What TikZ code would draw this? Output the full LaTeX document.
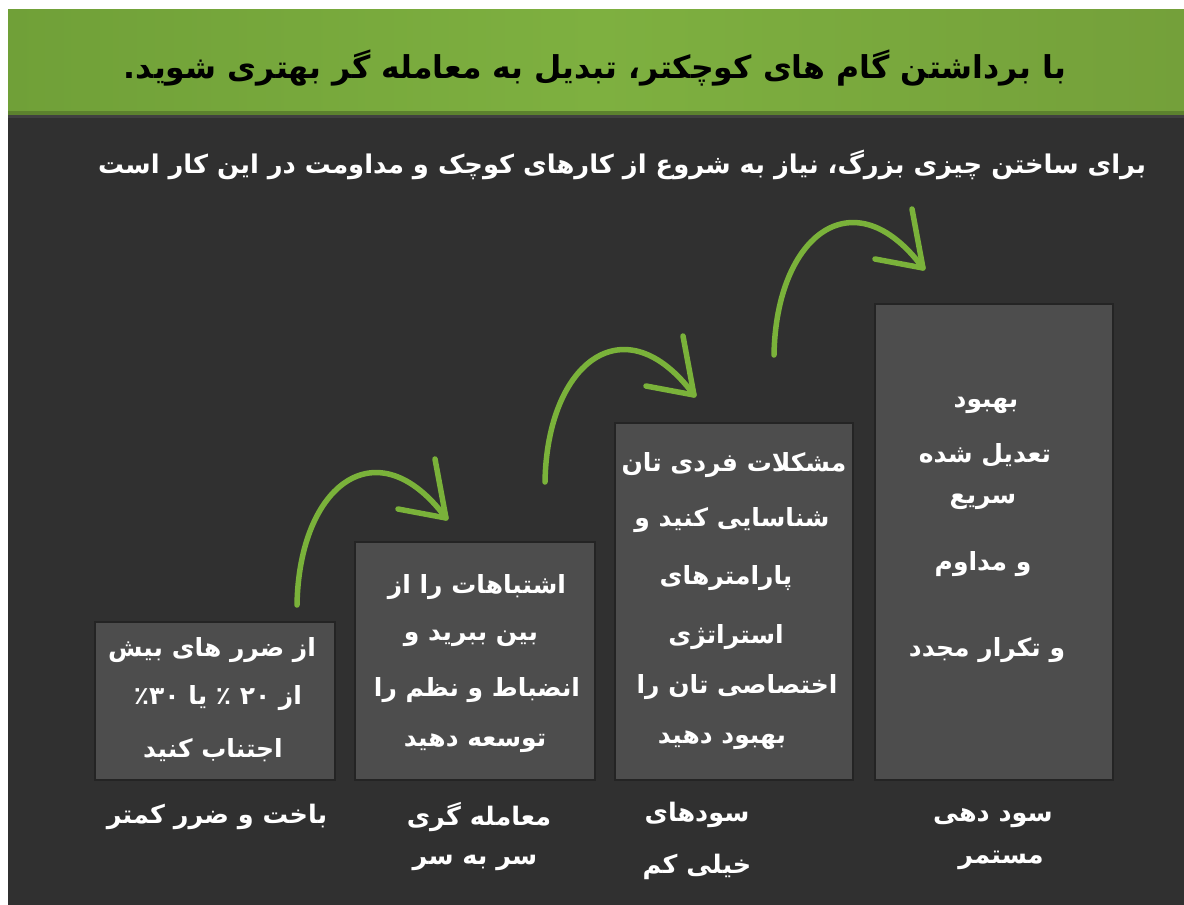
\documentclass[tikz,border=0pt]{standalone}
\usepackage{fontspec}
\TeXXeTstate=1
\newfontfamily\fa[Script=Arabic]{DejaVu Sans}
\definecolor{bgdark}{RGB}{48,48,48}
\definecolor{boxfill}{RGB}{77,77,77}
\definecolor{boxline}{RGB}{36,36,36}
\definecolor{gL}{RGB}{112,160,56}
\definecolor{gM}{RGB}{126,176,64}
\definecolor{gR}{RGB}{116,160,58}
\definecolor{gDark}{RGB}{92,130,46}
\definecolor{arrowgreen}{RGB}{122,178,58}
\tikzset{
  stepbox/.style={draw=boxline, line width=2pt, fill=boxfill, inner sep=0pt},
  boxtxt/.style={text=white, font=\fa\bfseries\fontsize{25}{30}\selectfont, inner sep=0pt, anchor=center},
  labtxt/.style={text=white, font=\fa\bfseries\fontsize{25.5}{30}\selectfont, inner sep=0pt, anchor=center},
  curvy/.style={draw=arrowgreen, line width=5.5pt, line cap=round, line join=round},
}
\newcommand{\rtl}[1]{\beginR #1\endR}
\begin{document}
\begin{tikzpicture}[x=1pt,y=-1pt]
\useasboundingbox (0,0) rectangle (1184,905);
\fill[white] (0,0) rectangle (1184,905);
\fill[bgdark] (8,117) rectangle (1184,905);
\shade[left color=gL, right color=gR, middle color=gM] (8,9) rectangle (1184,112);
\fill[gDark] (8,111) rectangle (1184,115);
\fill[black!75] (8,115) rectangle (1184,118);

% title and subtitle
\node[text=black, font=\fa\bfseries\fontsize{31.5}{36}\selectfont, inner sep=0pt] (title) at (595,68)
  {\rtl{با برداشتن گام های کوچکتر، تبدیل به معامله گر بهتری شوید.}};
\node[text=white, font=\fa\bfseries\fontsize{25.8}{32}\selectfont, inner sep=0pt] (subtitle) at (622,165)
  {\rtl{برای ساختن چیزی بزرگ، نیاز به شروع از کارهای کوچک و مداومت در این کار است}};

% boxes
\node[stepbox, minimum width=240pt, minimum height=158pt] (b1) at (215,701) {};
\node[stepbox, minimum width=240pt, minimum height=238pt] (b2) at (475,661) {};
\node[stepbox, minimum width=238pt, minimum height=357pt] (b3) at (734,601.5) {};
\node[stepbox, minimum width=238pt, minimum height=476pt] (b4) at (994,542) {};

% box 1 text
\node[boxtxt] (b1t1) at (212,650) {\rtl{از ضرر های بیش}};
\node[boxtxt] (b1t2) at (218,698) {\rtl{از \beginL۲۰\endL{} ٪ یا \beginL۳۰\endL٪}};
\node[boxtxt] (b1t3) at (213,750) {\rtl{اجتناب کنید}};
% box 2 text
\node[boxtxt] (b2t1) at (477,587) {\rtl{اشتباهات را از}};
\node[boxtxt] (b2t2) at (471,638) {\rtl{بین ببرید و}};
\node[boxtxt] (b2t3) at (477,690) {\rtl{انضباط و نظم را}};
\node[boxtxt] (b2t4) at (475,743) {\rtl{توسعه دهید}};
% box 3 text
\node[boxtxt] (b3t1) at (734,465) {\rtl{مشکلات فردی تان}};
\node[boxtxt] (b3t2) at (732,520) {\rtl{شناسایی کنید و}};
\node[boxtxt] (b3t3) at (726,578) {\rtl{پارامترهای}};
\node[boxtxt] (b3t4) at (726,637) {\rtl{استراتژی}};
\node[boxtxt] (b3t5) at (737,687) {\rtl{اختصاصی تان را}};
\node[boxtxt] (b3t6) at (722,740) {\rtl{بهبود دهید}};
% box 4 text
\node[boxtxt] (b4t1) at (986,405) {\rtl{بهبود}};
\node[boxtxt] (b4t2) at (985,455) {\rtl{تعدیل شده}};
\node[boxtxt] (b4t3) at (983,502) {\rtl{سریع}};
\node[boxtxt] (b4t4) at (983,564) {\rtl{و مداوم}};
\node[boxtxt] (b4t5) at (987,650) {\rtl{و تکرار مجدد}};

% labels under boxes
\node[labtxt] (l1) at (217,817) {\rtl{باخت و ضرر کمتر}};
\node[labtxt] (l2a) at (479,817) {\rtl{معامله گری}};
\node[labtxt] (l2b) at (475,863) {\rtl{سر به سر}};
\node[labtxt] (l3a) at (697,815) {\rtl{سودهای}};
\node[labtxt] (l3b) at (697,867) {\rtl{خیلی کم}};
\node[labtxt] (l4a) at (993,818) {\rtl{سود دهی}};
\node[labtxt] (l4b) at (1001,860) {\rtl{مستمر}};

% curved green arrows
\foreach \i/\sx/\sy in {1/297/605, 2/545/482, 3/774/355} {
  \begin{scope}[shift={(\sx,\sy)}]
    \coordinate (tail\i) at (0,0);
    \coordinate (tip\i) at (149,-87);
    \coordinate (armA\i) at (138,-146);
    \coordinate (armB\i) at (101,-96);
    \draw[curvy] (tail\i) .. controls (2,-120) and (80,-180) .. (tip\i);
    \draw[curvy] (armA\i) -- (tip\i) -- (armB\i);
  \end{scope}
}
\end{tikzpicture}
\end{document}
